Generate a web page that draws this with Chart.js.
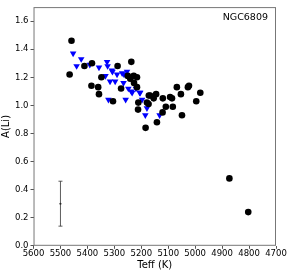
<!DOCTYPE html>
<html>
<head>
<meta charset="utf-8">
<script src="https://cdn.jsdelivr.net/npm/chart.js@4.4.0/dist/chart.umd.min.js"></script>
<style>
  html, body { margin: 0; padding: 0; background: #fff; }
  #wrap { width: 291px; height: 271px; }
</style>
</head>
<body>
<div id="wrap"><canvas id="c"></canvas></div>
<script>
// Black circles: Teff (K) and A(Li)
const dotTeff = [5459, 5466, 5411, 5383, 5385, 5360, 5357, 5348, 5305, 5288,
  5275, 5237, 5228, 5216, 5227, 5241, 5250, 5211, 5212, 5184,
  5173, 5172, 5216, 5179, 5167, 5154, 5145, 5120, 5109, 5121,
  5142, 5093, 5086, 5083, 5068, 5053, 5049, 5027, 5023, 4996,
  4981, 4873, 4803];
const dotALi = [1.46, 1.22, 1.28, 1.30, 1.14, 1.13, 1.08, 1.20, 1.03, 1.28,
  1.12, 1.31, 1.21, 1.20, 1.16, 1.19, 1.21, 1.02, 0.97, 0.84,
  1.01, 1.07, 1.13, 1.02, 1.07, 1.05, 1.08, 1.05, 0.99, 0.95,
  0.88, 1.06, 1.05, 0.99, 1.13, 1.08, 0.93, 1.13, 1.14, 1.03,
  1.09, 0.48, 0.24];

// Blue down triangles (upper limits)
const triTeff = [5453, 5423, 5440, 5391, 5357, 5327, 5325, 5309, 5333, 5307,
  5316, 5297, 5290, 5271, 5253, 5264, 5266, 5248, 5237, 5220,
  5206, 5234, 5197, 5322, 5258, 5179, 5185, 5132, 5204];
const triALi = [1.37, 1.33, 1.28, 1.29, 1.27, 1.31, 1.28, 1.25, 1.21, 1.24,
  1.17, 1.17, 1.22, 1.23, 1.24, 1.22, 1.16, 1.12, 1.10, 1.12,
  1.09, 1.09, 1.04, 1.04, 1.04, 0.98, 0.93, 0.93, 1.09];

// typical error bar
const errTeff = 5500;
const errALi = 0.30;
const errSize = 0.16;

const xTicks = [5600, 5500, 5400, 5300, 5200, 5100, 5000, 4900, 4800, 4700];
const clusterName = 'NGC6809';

const toPts = (xs, ys) => xs.map((x, i) => ({ x: x, y: ys[i] }));

const frame = {
  id: 'frame',
  afterDraw(chart) {
    const a = chart.chartArea, ctx = chart.ctx;
    ctx.save();
    ctx.strokeStyle = '#777';
    ctx.lineWidth = 1;
    ctx.strokeRect(a.left + 0.5, a.top + 0.5, a.right - a.left - 1, a.bottom - a.top - 1);
    ctx.fillStyle = '#000';
    ctx.font = '9.5px "DejaVu Sans"';
    ctx.textAlign = 'right';
    ctx.textBaseline = 'top';
    ctx.fillText(clusterName, a.right - 8, a.top + 6);
    ctx.restore();
  }
};

new Chart(document.getElementById('c'), {
  type: 'scatter',
  data: {
    datasets: [
      {
        data: toPts(dotTeff, dotALi),
        pointStyle: 'circle',
        pointRadius: 3.3,
        backgroundColor: '#000',
        borderColor: '#000',
        borderWidth: 0
      },
      {
        data: toPts(triTeff, triALi),
        pointStyle: 'triangle',
        rotation: 180,
        pointRadius: 3.8,
        backgroundColor: '#0000ff',
        borderColor: '#0000ff',
        borderWidth: 0
      },
      {
        data: [{ x: errTeff, y: errALi - errSize }, { x: errTeff, y: errALi + errSize }],
        showLine: true,
        borderColor: '#333',
        borderWidth: 0.8,
        pointStyle: 'line',
        pointRadius: 2,
        pointBorderWidth: 0.8,
        pointBorderColor: '#333'
      },
      {
        data: [{ x: errTeff, y: errALi }],
        pointStyle: 'circle',
        pointRadius: 1,
        backgroundColor: '#000',
        borderWidth: 0
      }
    ]
  },
  options: {
    responsive: true,
    maintainAspectRatio: false,
    animation: false,
    layout: { padding: { left: 0, right: 15, top: 6, bottom: 0 } },
    plugins: { legend: { display: false }, tooltip: { enabled: false } },
    scales: {
      x: {
        type: 'linear',
        reverse: true,
        min: 4700,
        max: 5600,
        afterBuildTicks: s => { s.ticks = xTicks.map(v => ({ value: v })); },
        grid: { drawOnChartArea: false, drawTicks: true, tickLength: 3, color: '#555' },
        border: { display: false },
        ticks: { color: '#000', font: { family: 'DejaVu Sans', size: 8.5 }, padding: 0, maxRotation: 0, autoSkip: false, callback: v => String(v) },
        title: { display: true, text: 'Teff (K)', color: '#000', font: { family: 'DejaVu Sans', size: 10 }, padding: { top: 0, bottom: 0 } }
      },
      y: {
        min: 0,
        max: 1.7,
        afterBuildTicks: s => { s.ticks = s.ticks.filter(t => t.value <= 1.6001); },
        grid: { drawOnChartArea: false, drawTicks: true, tickLength: 3, color: '#555' },
        border: { display: false },
        ticks: { stepSize: 0.2, color: '#000', font: { family: 'DejaVu Sans', size: 8.5 }, padding: 2, callback: v => v.toFixed(1) },
        title: { display: true, text: 'A(Li)', color: '#000', font: { family: 'DejaVu Sans', size: 10 }, padding: { top: 0, bottom: 1 } }
      }
    }
  },
  plugins: [frame]
});
</script>
</body>
</html>
